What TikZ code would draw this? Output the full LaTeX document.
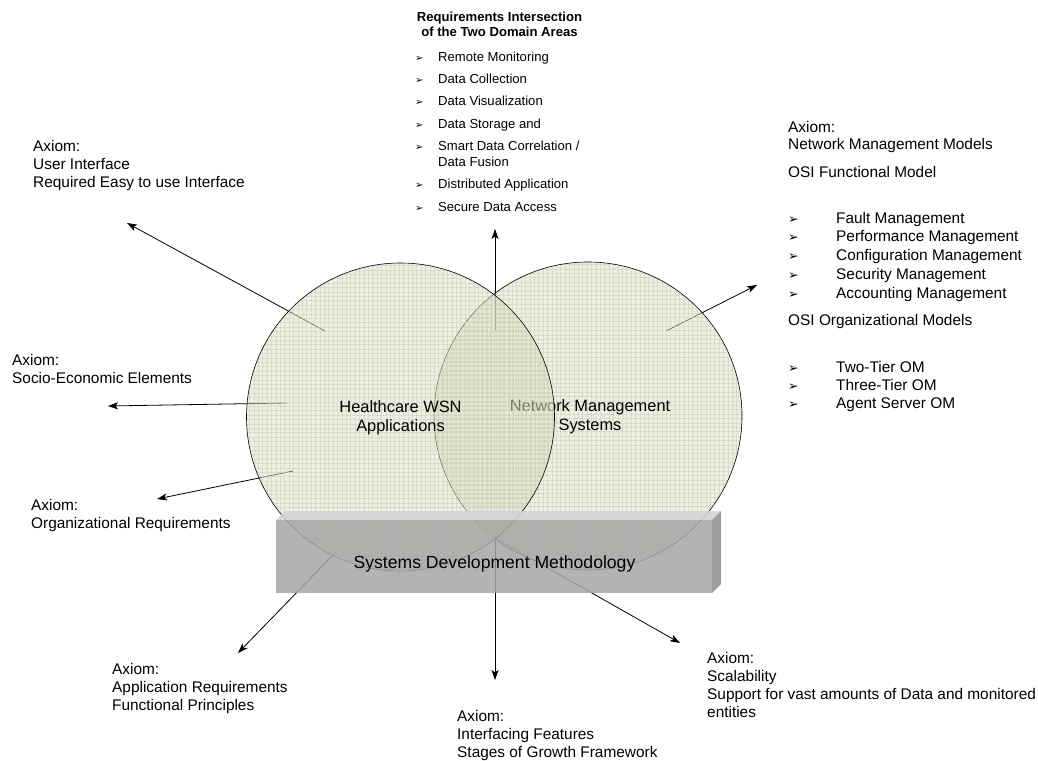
\documentclass[tikz,border=0pt]{standalone}
\usepackage{fontspec}
\setmainfont{Liberation Sans}
\newfontfamily\dejavu{DejaVu Sans}
\usetikzlibrary{arrows.meta}
\definecolor{circfill}{RGB}{221,223,199}
\definecolor{gridc}{RGB}{196,202,172}
\definecolor{boxfront}{RGB}{166,166,166}
\definecolor{boxtop}{RGB}{212,212,212}
\definecolor{boxside}{RGB}{148,148,148}
\newcommand{\bul}[1]{{\dejavu\fontsize{#1}{#1}\selectfont\char"27A2}}
\begin{document}
\begin{tikzpicture}[x=1pt,y=-1pt,
  lbl/.style={inner sep=0pt, anchor=base west, align=left, font=\fontsize{15.4}{17.6}\selectfont},
  arr/.style={-{Stealth[length=10pt,width=7pt,inset=2.5pt]}, line width=0.8pt},
  circlbl/.style={inner sep=0pt, anchor=base, align=center, font=\fontsize{16.4}{19}\selectfont},
  gridline/.style={gridc, line width=0.3pt, opacity=0.45}]
\useasboundingbox (0,0) rectangle (1038,760);

% ---------- arrow end points ----------
\coordinate (uiS) at (325,331);  \coordinate (uiT) at (127,223);
\coordinate (seS) at (287,403);  \coordinate (seT) at (108,406);
\coordinate (orS) at (293,471);  \coordinate (orT) at (157,499);
\coordinate (tpS) at (495,330);  \coordinate (tpT) at (495,229);
\coordinate (nmS) at (666,331);  \coordinate (nmT) at (757,285);
\coordinate (blS) at (337,551);  \coordinate (blT) at (238,653);
\coordinate (bmS) at (495,540);  \coordinate (bmT) at (495,680);
\coordinate (brS) at (495,538);  \coordinate (brT) at (680,643);

\draw[arr] (uiS) -- (uiT);
\draw[arr] (seS) -- (seT);
\draw[arr] (orS) -- (orT);
\draw[arr] (tpS) -- (tpT);
\draw[arr] (nmS) -- (nmT);
\draw[arr] (blS) -- (blT);
\draw[arr] (bmS) -- (bmT);
\draw[arr] (brS) -- (brT);

% ---------- right circle ----------
\begin{scope}
  \clip (588,416) circle (154);
  \fill[circfill, opacity=0.5] (588,416) circle (154);
  \foreach \g in {0,...,71} {
    \draw[gridline] ({433+\g*4.4},260) -- ++(0,314);
    \draw[gridline] (432,{260+\g*4.4}) -- ++(314,0);
  }
\end{scope}
\draw[line width=0.6pt] (588,416) circle (154);
\node[circlbl] (nms) at (590,430) {Network Management\\Systems};

% ---------- left circle ----------
\begin{scope}
  \clip (400.5,417) circle (154);
  \fill[circfill, opacity=0.5] (400.5,417) circle (154);
  \foreach \g in {0,...,71} {
    \draw[gridline] ({245+\g*4.4},261) -- ++(0,314);
    \draw[gridline] (244,{261+\g*4.4}) -- ++(314,0);
  }
\end{scope}
\draw[line width=0.6pt] (400.5,417) circle (154);
\node[circlbl] (hwsn) at (400.5,431) {Healthcare WSN\\Applications};

% ---------- box ----------
\fill[boxtop, opacity=0.9] (276,520) -- (285,511) -- (721,511) -- (712,520) -- cycle;
\fill[boxside, opacity=0.9] (712,520) -- (721,511) -- (721,584) -- (712,593) -- cycle;
\fill[boxfront, opacity=0.85] (276,520) rectangle (712,593);
\node[inner sep=0pt, anchor=base, font=\fontsize{17.6}{20}\selectfont] (sdm) at (494.5,568) {Systems Development Methodology};

% ---------- top requirement list ----------
\node[inner sep=0pt, anchor=base, align=center, font=\bfseries\fontsize{13.1}{15}\selectfont] (rtitle) at (499.5,37)
  {Requirements Intersection\\of the Two Domain Areas};
\node[inner sep=0pt, anchor=base west, align=left, font=\fontsize{13.1}{16}\selectfont] (rlist) at (415,211)
  {\makebox[23pt][l]{\bul{10}}Remote Monitoring\\[6.3pt]
   \makebox[23pt][l]{\bul{10}}Data Collection\\[6.3pt]
   \makebox[23pt][l]{\bul{10}}Data Visualization\\[6.3pt]
   \makebox[23pt][l]{\bul{10}}Data Storage and\\[6.3pt]
   \makebox[23pt][l]{\bul{10}}Smart Data Correlation /\\
   \hspace*{23pt}Data Fusion\\[6.3pt]
   \makebox[23pt][l]{\bul{10}}Distributed Application\\[6.3pt]
   \makebox[23pt][l]{\bul{10}}Secure Data Access};

% ---------- left labels ----------
\node[lbl] (ui) at (33,187) {Axiom:\\User Interface\\Required Easy to use Interface};
\node[lbl] (se) at (12,383) {Axiom:\\Socio-Economic Elements};
\node[lbl] (org) at (31,528) {Axiom:\\Organizational Requirements};

% ---------- bottom labels ----------
\node[lbl] (app) at (112,710) {Axiom:\\Application Requirements\\Functional Principles};
\node[lbl] (intf) at (457,757) {Axiom:\\Interfacing Features\\Stages of Growth Framework};
\node[lbl, font=\fontsize{15.4}{17.9}\selectfont] (scal) at (707,717) {Axiom:\\Scalability\\Support for vast amounts of Data and monitored\\entities};

% ---------- right labels ----------
\node[lbl, font=\fontsize{15.4}{17}\selectfont] (nmm) at (788,149) {Axiom:\\Network Management Models};
\node[lbl] (osif) at (788,177) {OSI Functional Model};
\node[lbl, font=\fontsize{15.4}{18.75}\selectfont] (osifl) at (788,298)
  {\makebox[48pt][l]{\bul{12.5}}Fault Management\\
   \makebox[48pt][l]{\bul{12.5}}Performance Management\\
   \makebox[48pt][l]{\bul{12.5}}Configuration Management\\
   \makebox[48pt][l]{\bul{12.5}}Security Management\\
   \makebox[48pt][l]{\bul{12.5}}Accounting Management};
\node[lbl] (osio) at (788,325) {OSI Organizational Models};
\node[lbl, font=\fontsize{15.4}{18}\selectfont] (osiol) at (788,408)
  {\makebox[48pt][l]{\bul{12.5}}Two-Tier OM\\
   \makebox[48pt][l]{\bul{12.5}}Three-Tier OM\\
   \makebox[48pt][l]{\bul{12.5}}Agent Server OM};
\end{tikzpicture}
\end{document}
